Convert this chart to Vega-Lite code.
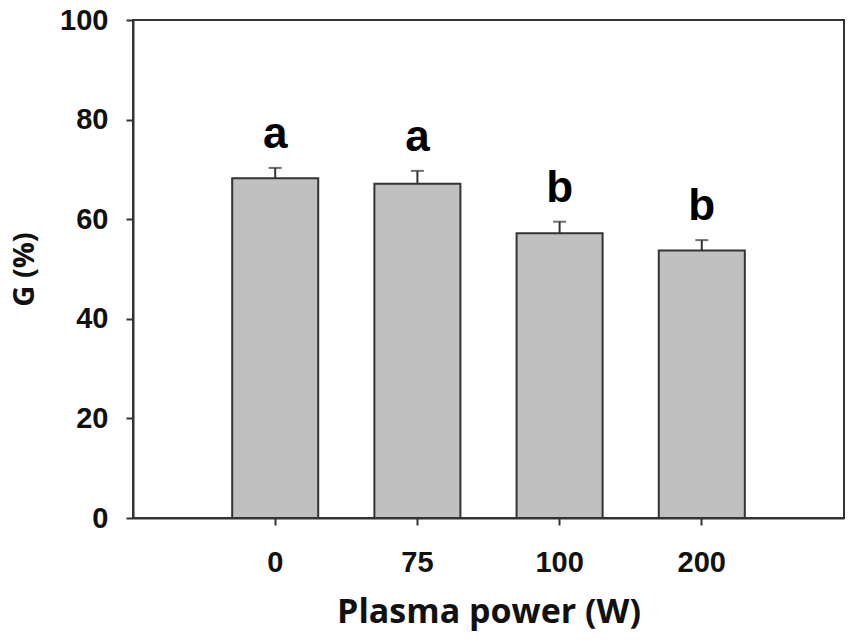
{
  "$schema": "https://vega.github.io/schema/vega-lite/v6.json",
  "width": 711,
  "height": 498,
  "autosize": {"type": "none"},
  "padding": {"left": 133, "top": 20, "right": 9, "bottom": 125},
  "background": "white",
  "config": {
    "view": {"stroke": "#333333", "strokeWidth": 2},
    "axis": {
      "grid": false,
      "domainColor": "#333333",
      "domainWidth": 2,
      "tickColor": "#333333",
      "tickWidth": 2,
      "tickSize": 7,
      "labelFont": "Liberation Sans",
      "labelFontWeight": "bold",
      "labelFontSize": 29,
      "labelColor": "#111111",
      "titleFont": "Open Sans",
      "titleFontWeight": "bold",
      "titleColor": "#111111"
    }
  },
  "data": {
    "values": [
      {"power": "0", "G": 68.2, "err": 70.3, "group": "a"},
      {"power": "75", "G": 67.1, "err": 69.7, "group": "a"},
      {"power": "100", "G": 57.2, "err": 59.5, "group": "b"},
      {"power": "200", "G": 53.7, "err": 55.8, "group": "b"}
    ]
  },
  "encoding": {
    "x": {
      "field": "power",
      "type": "ordinal",
      "sort": null,
      "title": "Plasma power (W)",
      "scale": {"paddingInner": 0.395, "paddingOuter": 0.6975},
      "axis": {"labelAngle": 0, "labelPadding": 23, "titleFontSize": 34, "titlePadding": 18}
    }
  },
  "layer": [
    {
      "mark": {"type": "bar", "fill": "#c0c0c0", "stroke": "#333333", "strokeWidth": 2},
      "encoding": {
        "y": {
          "field": "G",
          "type": "quantitative",
          "title": "G (%)",
          "scale": {"domain": [0, 100], "nice": false},
          "axis": {"values": [0, 20, 40, 60, 80, 100], "labelPadding": 18, "titleFontSize": 29, "titlePadding": 20}
        }
      }
    },
    {
      "mark": {"type": "rule", "color": "#333333", "strokeWidth": 2},
      "encoding": {
        "y": {"field": "G", "type": "quantitative"},
        "y2": {"field": "err"}
      }
    },
    {
      "mark": {"type": "tick", "color": "#333333", "thickness": 2, "size": 13, "orient": "horizontal"},
      "encoding": {
        "y": {"field": "err", "type": "quantitative"}
      }
    },
    {
      "mark": {"type": "text", "font": "Liberation Sans", "fontWeight": "bold", "fontSize": 44, "color": "#000000", "baseline": "alphabetic", "dy": -20},
      "encoding": {
        "y": {"field": "err", "type": "quantitative"},
        "text": {"field": "group"}
      }
    }
  ]
}
